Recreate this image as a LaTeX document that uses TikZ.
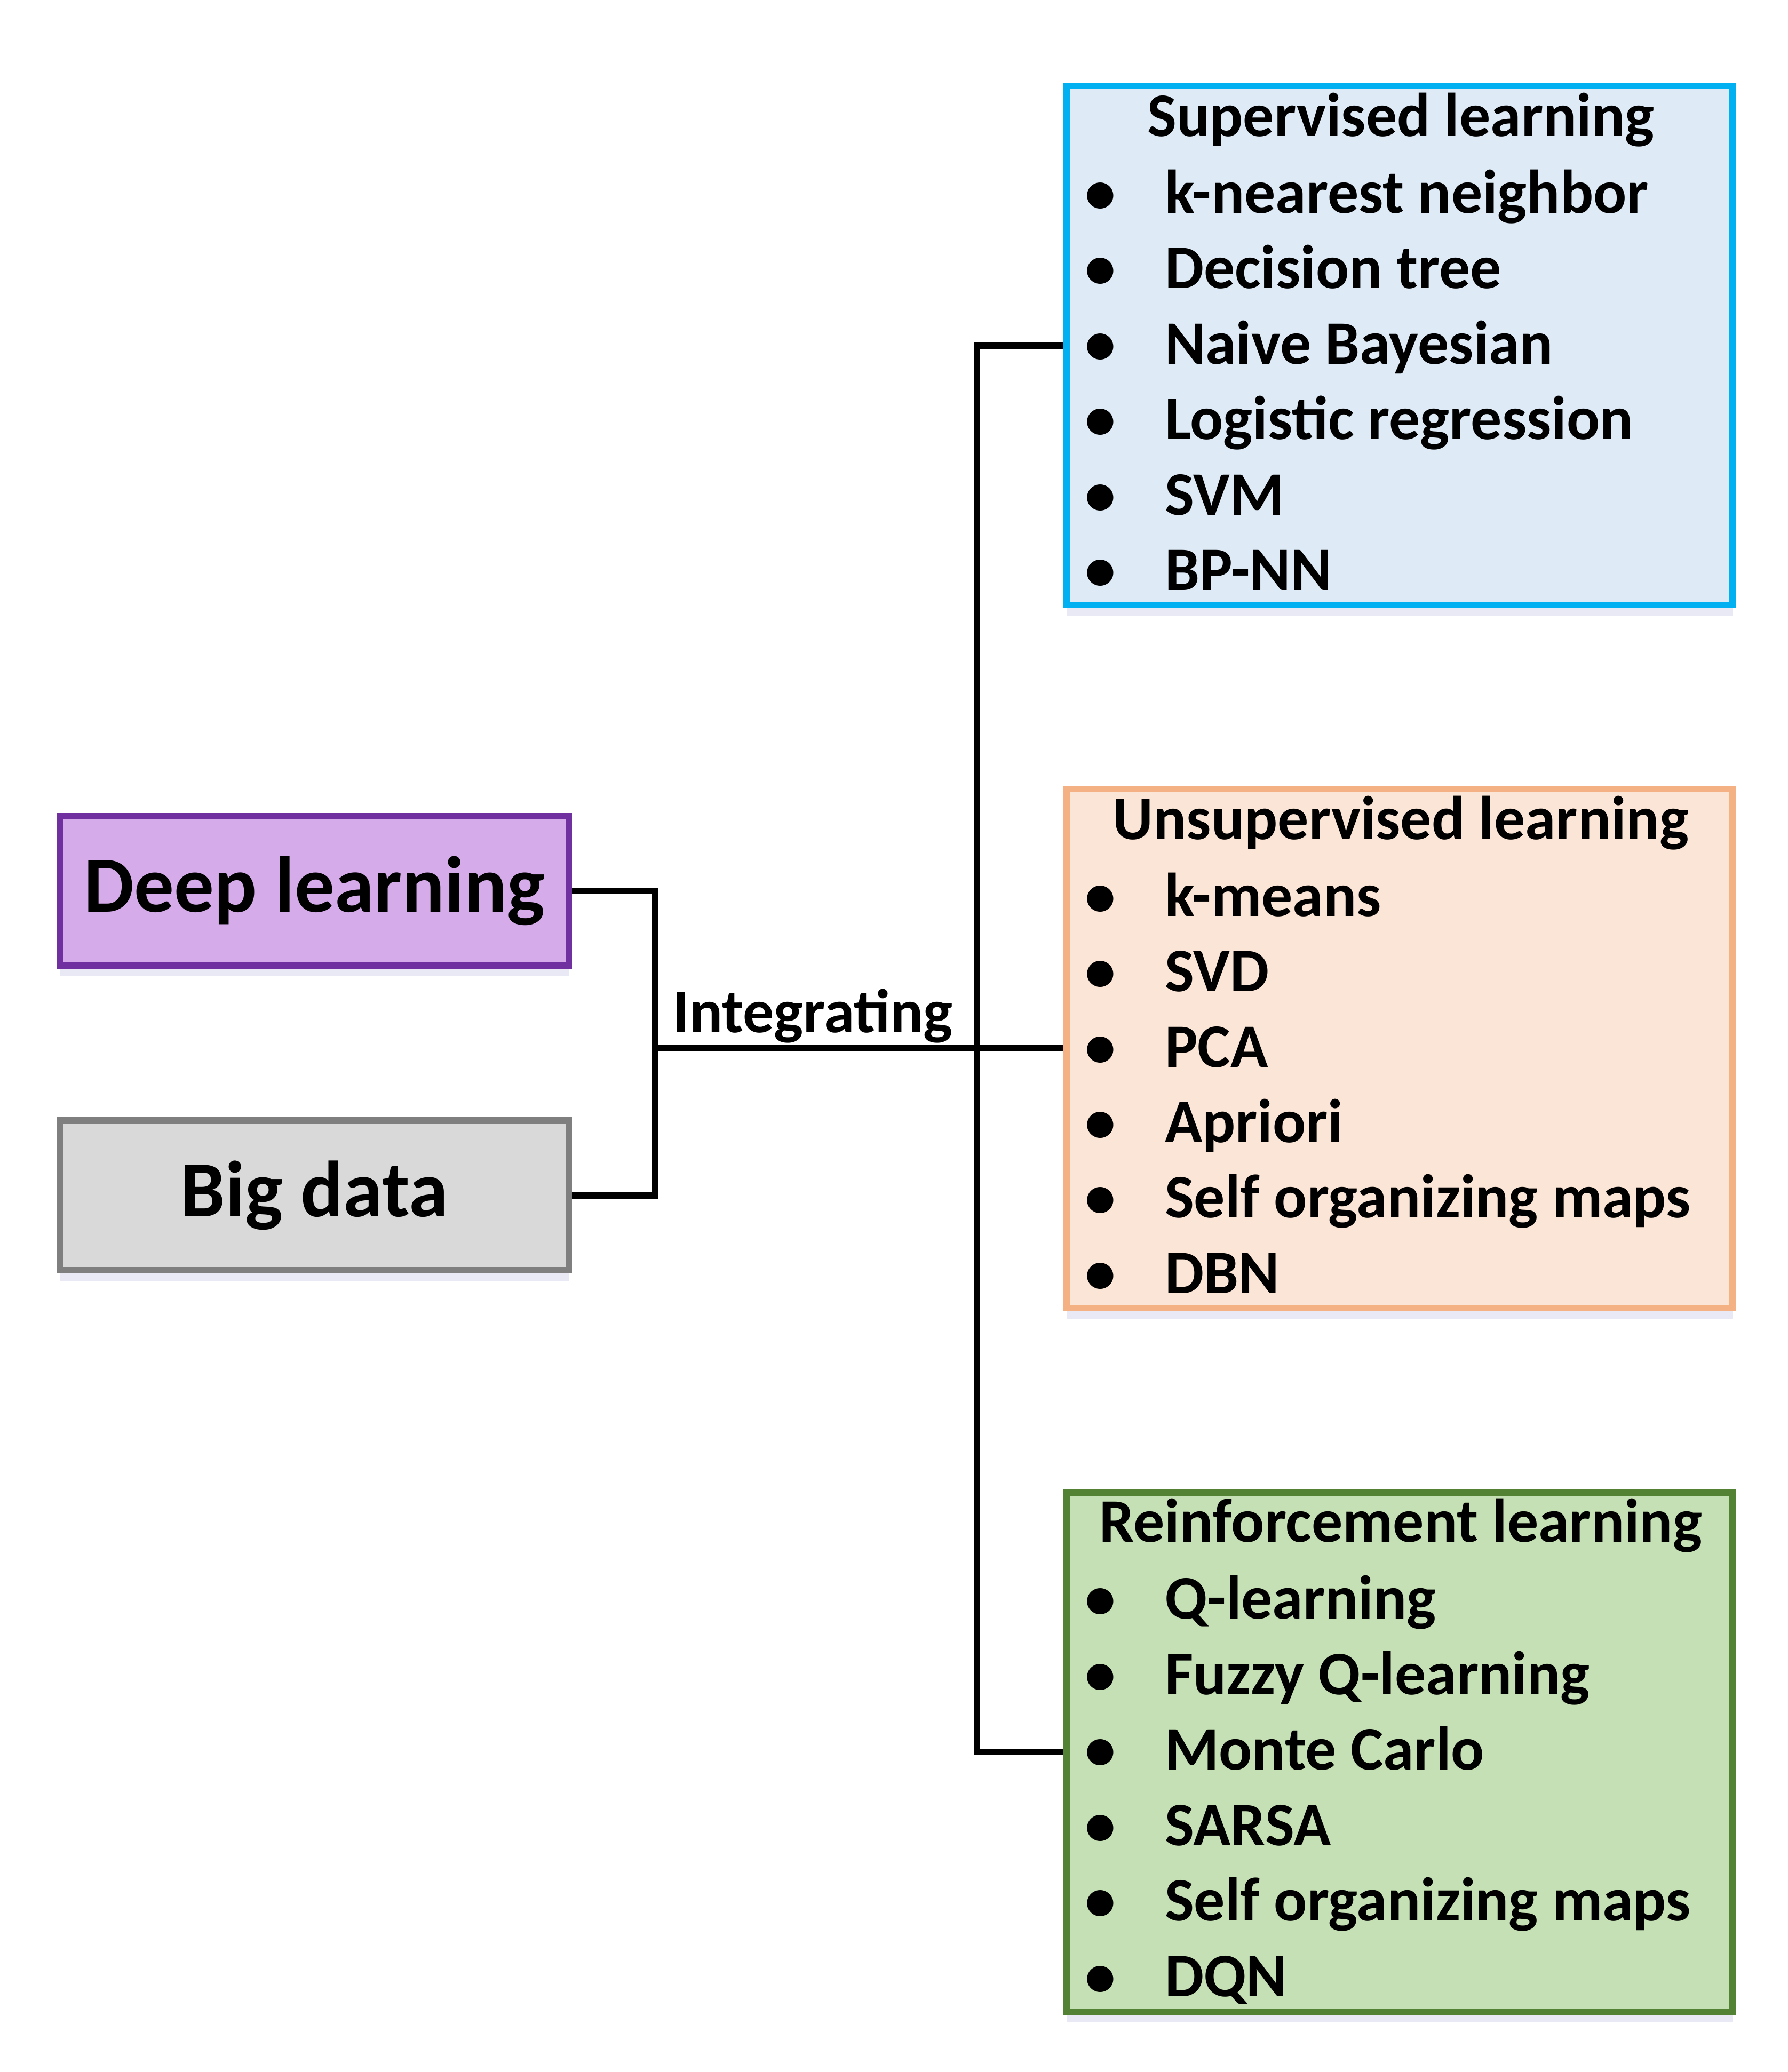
\documentclass[tikz,border=0pt]{standalone}
\usepackage{fontspec}
\setmainfont{Carlito}
\usetikzlibrary{shadows}

\definecolor{dlfill}{HTML}{D5ABEA}
\definecolor{dlline}{HTML}{7030A0}
\definecolor{bdfill}{HTML}{D9D9D9}
\definecolor{bdline}{HTML}{7F7F7F}
\definecolor{supfill}{HTML}{DEEBF7}
\definecolor{supline}{HTML}{00B0F0}
\definecolor{unsfill}{HTML}{FBE5D6}
\definecolor{unsline}{HTML}{F4B183}
\definecolor{reifill}{HTML}{C5E0B4}
\definecolor{reiline}{HTML}{548235}

\tikzset{
  glow/.style={drop shadow={shadow xshift=0pt, shadow yshift=-0.8mm,
      fill=blue!40!gray, opacity=0.12}},
  srcbox/.style={draw, line width=1.4pt, glow, minimum width=38.4mm,
      minimum height=11.3mm, inner sep=0pt,
      font=\bfseries\fontsize{17.1}{20}\selectfont},
  grpbox/.style={draw, line width=1.4pt, glow, minimum width=50.3mm,
      minimum height=39.2mm, inner sep=0pt},
  head/.style={anchor=base, inner sep=0pt,
      font=\bfseries\fontsize{13.3}{16}\selectfont},
  item/.style={anchor=base west, inner sep=0pt,
      font=\bfseries\fontsize{13.3}{16}\selectfont},
  dot/.style={anchor=base, inner sep=0pt,
      font=\bfseries\fontsize{13.3}{16}\selectfont},
  wire/.style={line width=1.35pt}
}

\begin{document}
\begin{tikzpicture}[x=0.1mm,y=-0.1mm]
  \useasboundingbox (0,0) rectangle (1350,1565.2);

  % left boxes
  \node[srcbox, fill=dlfill, draw=dlline] (deep) at (237.5,673) {Deep learning};
  \node[srcbox, fill=bdfill, draw=bdline] (big) at (237.5,903) {Big data};

  % right boxes
  \node[grpbox, fill=supfill, draw=supline] (sup) at (1057,261) {};
  \node[grpbox, fill=unsfill, draw=unsline] (uns) at (1057,792) {};
  \node[grpbox, fill=reifill, draw=reiline] (rei) at (1057,1323.5) {};

  \node[head] (sup-t) at (1058,103) {Supervised learning};
  \foreach \txt [count=\i from 0] in {k-nearest neighbor, Decision tree,
      Naive Bayesian, Logistic regression, SVM, BP-NN} {
    \node[dot] at (831,{161+57*\i}) {\textbullet};
    \node[item] (sup-\i) at (879,{161+57*\i}) {\txt};
  }

  \node[head] (uns-t) at (1058,634) {Unsupervised learning};
  \foreach \txt [count=\i from 0] in {k-means, SVD, PCA, Apriori,
      Self organizing maps, DBN} {
    \node[dot] at (831,{692+57*\i}) {\textbullet};
    \node[item] (uns-\i) at (879,{692+57*\i}) {\txt};
  }

  \node[head] (rei-t) at (1058,1165) {Reinforcement learning};
  \foreach \txt [count=\i from 0] in {Q-learning, Fuzzy Q-learning,
      Monte Carlo, SARSA, Self organizing maps, DQN} {
    \node[dot] at (831,{1223+57*\i}) {\textbullet};
    \node[item] (rei-\i) at (879,{1223+57*\i}) {\txt};
  }

  % connectors
  \coordinate (join) at (495,792);
  \coordinate (trunk) at (738,792);
  \draw[wire] (deep.east) -| (join) |- (big.east);
  \draw[wire] (join) -- node[pos=0, anchor=base west, inner sep=0pt,
      xshift=1.1mm, yshift=1.2mm, font=\bfseries\fontsize{13.3}{16}\selectfont]
      {Integrating} (uns.west);
  \draw[wire] (sup.west) -| (trunk) |- (rei.west);
\end{tikzpicture}
\end{document}
